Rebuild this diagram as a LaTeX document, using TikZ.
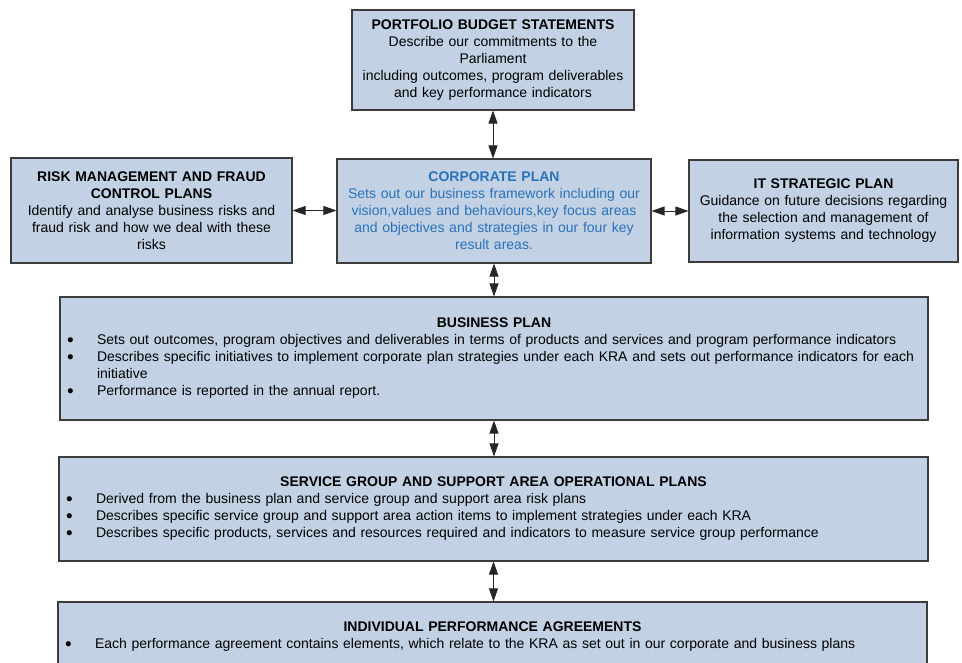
\documentclass[tikz,border=0pt]{standalone}
\usepackage{fontspec}
\usepackage{graphicx}
\setmainfont{Liberation Sans}
\usetikzlibrary{arrows.meta}

\definecolor{boxfill}{RGB}{194,210,228}
\definecolor{boxline}{RGB}{60,60,60}
\definecolor{corpblue}{RGB}{41,113,186}

% centred bold heading line and bulleted lines for the wide boxes
\newcommand\boxhead[1]{\hbox to\hsize{\hss\bfseries #1\hss}}
\newcommand\bdot{\raisebox{-1.2pt}{\scalebox{1.35}{\textbullet}}}
\newcommand\bline[1]{\hbox to\hsize{\hspace*{7pt}\makebox[30pt][l]{\bdot}#1\hss}}
\newcommand\bcont[1]{\hbox to\hsize{\hspace*{37pt}#1\hss}}

\begin{document}
\begin{tikzpicture}[x=1pt,y=-1pt,
  box/.style={draw=boxline, line width=1.1pt, fill=boxfill, inner sep=0pt,
    font=\fontsize{14}{17}\selectfont},
  cbox/.style={box, align=center},
  conn/.style={{Triangle[width=9pt,length=13pt]}-{Triangle[width=9pt,length=13pt]},
    line width=0.8pt, black!85}]
\useasboundingbox (0,0) rectangle (962,662);
\clip (0,0) rectangle (962,662);

\node[cbox, minimum width=282pt, minimum height=100pt, text width=270pt] (pbs) at (493,60)
  {\textbf{PORTFOLIO BUDGET STATEMENTS}\\Describe our commitments to the\\Parliament\\including outcomes, program deliverables\\and key performance indicators};

\node[cbox, minimum width=281pt, minimum height=105pt, text width=270pt] (risk) at (151.5,210.5)
  {\textbf{RISK MANAGEMENT AND FRAUD}\\\textbf{CONTROL PLANS}\\Identify and analyse business risks and\\fraud risk and how we deal with these\\risks};

\node[cbox, minimum width=314pt, minimum height=104pt, text width=304pt, text=corpblue] (corp) at (494,211)
  {\textbf{CORPORATE PLAN}\\Sets out our business framework including our\\vision,values and behaviours,key focus areas\\and objectives and strategies in our four key\\result areas.};

\node[cbox, minimum width=269pt, minimum height=102pt, text width=260pt] (it) at (823.5,211)
  {\textbf{IT STRATEGIC PLAN}\\Guidance on future decisions regarding\\the selection and management of\\information systems and technology};

\node[box, minimum width=868pt, minimum height=123pt, text width=868pt] (bus) at (494,358.5)
  {\boxhead{BUSINESS PLAN}
   \bline{Sets out outcomes, program objectives and deliverables in terms of products and services and program performance indicators}
   \bline{Describes specific initiatives to implement corporate plan strategies under each KRA and sets out performance indicators for each}
   \bcont{initiative}
   \bline{Performance is reported in the annual report.}};

\node[box, minimum width=869pt, minimum height=104pt, text width=869pt] (svc) at (493.5,509)
  {\boxhead{SERVICE GROUP AND SUPPORT AREA OPERATIONAL PLANS}
   \bline{Derived from the business plan and service group and support area risk plans}
   \bline{Describes specific service group and support area action items to implement strategies under each KRA}
   \bline{Describes specific products, services and resources required and indicators to measure service group performance}};

\node[box, minimum width=869pt, minimum height=70pt, text width=869pt] (ind) at (492.5,637)
  {\boxhead{INDIVIDUAL PERFORMANCE AGREEMENTS}
   \bline{Each performance agreement contains elements, which relate to the KRA as set out in our corporate and business plans}};

\draw[conn] (pbs.south) -- (pbs.south |- corp.north);
\draw[conn] (risk.east) -- (risk.east -| corp.west);
\draw[conn] (corp.east) -- (corp.east -| it.west);
\draw[conn] (corp.south) -- (corp.south |- bus.north);
\draw[conn] (bus.south) -- (bus.south |- svc.north);
\draw[conn] (svc.south) -- (svc.south |- ind.north);
\end{tikzpicture}
\end{document}
